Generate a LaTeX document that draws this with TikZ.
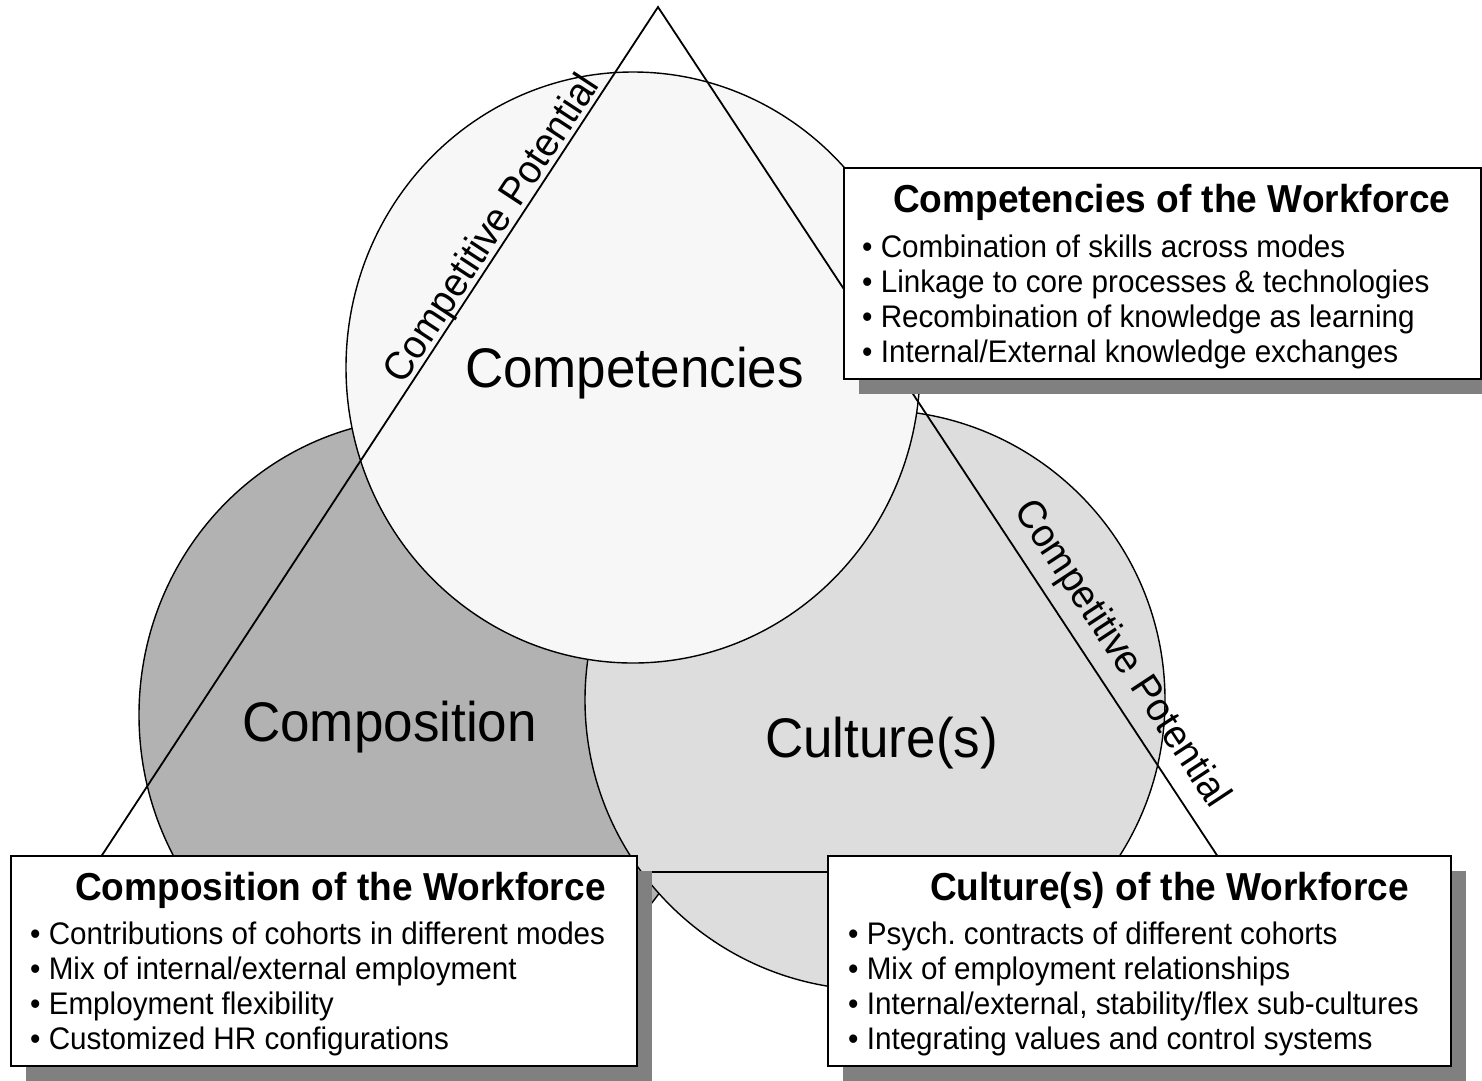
\documentclass[tikz,border=0pt]{standalone}
\usepackage{fontspec}
\setmainfont{Liberation Sans}[FakeStretch=0.95]
\usetikzlibrary{shadows}
\definecolor{compfill}{HTML}{F7F7F7}
\definecolor{posfill}{HTML}{B2B2B2}
\definecolor{cultfill}{HTML}{DDDDDD}
\definecolor{shadowgray}{HTML}{808080}
\frenchspacing
\begin{document}
\begin{tikzpicture}[x=1pt,y=-1pt,
  ring/.style={draw=black, line width=1.4pt},
  bigword/.style={font=\fontsize{55.8}{62}\selectfont, inner sep=0pt, anchor=base},
  potential/.style={font=\fontsize{40}{46}\selectfont, inner sep=0pt, anchor=base},
  infobox/.style={draw=black, line width=1.8pt, fill=white, anchor=north west,
    inner sep=0pt, general shadow={fill=shadowgray, shadow xshift=15pt, shadow yshift=-15pt}},
  boxtitle/.style={font=\bfseries\fontsize{39}{46}\selectfont, anchor=base west, inner sep=0pt},
  boxitem/.style={font=\fontsize{31.2}{35}\selectfont, anchor=base west, inner sep=0pt}]

\clip (0,0) rectangle (1482,1080);
\fill[white] (0,0) rectangle (1482,1080);

% the three overlapping fields
\draw[ring, fill=posfill] (428,715) ellipse [x radius=289, y radius=297];
\draw[ring, fill=cultfill] (875,700) circle [radius=290];
\draw[ring, fill=compfill] (633,367.5) ellipse [x radius=287, y radius=295.5];

% the competitive-potential triangle
\coordinate (apex) at (658,7);
\coordinate (baseL) at (91,872);
\coordinate (baseR) at (1228,872);
\draw[line width=1.8pt, line join=miter] (apex) -- (baseL) -- (baseR) -- cycle;

% field names
\node[bigword] (lblcomp) at (634.5,387) {Competencies};
\node[bigword] (lblpos) at (389.5,741) {Composition};
\node[bigword] (lblcult) at (881.5,757) {Culture(s)};

% labels along the triangle sides
\node[potential, rotate=56.7] (potleft) at (502,235) {Competitive Potential};
\node[potential, rotate=-56.6] (potright) at (1112,660) {Competitive Potential};

% competencies box
\node[infobox, minimum width=637, minimum height=211] (boxcomp) at (843,167) {};
\node[boxtitle] (ttlcomp) at (893,212) {Competencies of the Workforce};
\foreach \txt [count=\i] in {{Combination of skills across modes},
    {Linkage to core processes \& technologies},
    {Recombination of knowledge as learning},
    {Internal/External knowledge exchanges}}
  \node[boxitem] (compitem\i) at (862,222+35*\i) {• \txt};

% composition box
\node[infobox, minimum width=626, minimum height=210] (boxpos) at (10,855) {};
\node[boxtitle] (ttlpos) at (75,900) {Composition of the Workforce};
\foreach \txt [count=\i] in {{Contributions of cohorts in different modes},
    {Mix of internal/external employment},
    {Employment flexibility},
    {Customized HR configurations}}
  \node[boxitem] (positem\i) at (30,909+35*\i) {• \txt};

% culture box
\node[infobox, minimum width=623, minimum height=210] (boxcult) at (827,855) {};
\node[boxtitle] (ttlcult) at (930,900) {Culture(s) of the Workforce};
\foreach \txt [count=\i] in {{Psych. contracts of different cohorts},
    {Mix of employment relationships},
    {Internal/external, stability/flex sub-cultures},
    {Integrating values and control systems}}
  \node[boxitem] (cultitem\i) at (848,909+35*\i) {• \txt};
\end{tikzpicture}
\end{document}
